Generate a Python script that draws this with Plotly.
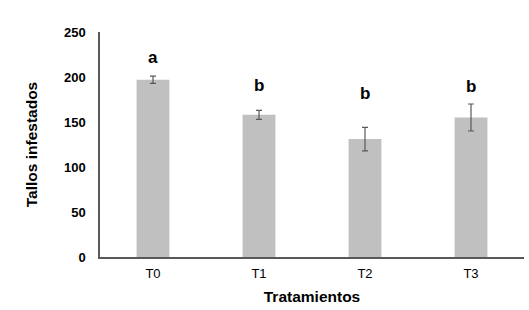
import plotly.graph_objects as go

categories = ["T0", "T1", "T2", "T3"]
values = [197, 158, 131, 155]
errors = [4, 5, 13, 15]
letters = ["a", "b", "b", "b"]
letter_y = [222, 191, 182, 190]
y_ticks = [0, 50, 100, 150, 200, 250]

fig = go.Figure()
fig.add_trace(go.Bar(
    x=categories, y=values,
    marker=dict(color="#c0c0c0", line=dict(width=0)),
    width=0.31,
    error_y=dict(type="data", array=errors, visible=True, color="#595959", thickness=1.2, width=3),
))
for c, l, yy in zip(categories, letters, letter_y):
    fig.add_annotation(x=c, y=yy, text=l, showarrow=False,
                       font=dict(family="Liberation Sans, Arial", size=17, color="#000000", weight="bold"))

fig.update_layout(
    width=529, height=310,
    margin=dict(l=100, r=5, t=32, b=53),
    plot_bgcolor="white", paper_bgcolor="white",
    showlegend=False,
    font=dict(family="Liberation Sans, Arial", color="#000000"),
)
fig.update_xaxes(
    range=[-0.5, 3.5], showline=True, linecolor="#595959", linewidth=1.5,
    showgrid=False, ticks="outside", ticklen=4, tickcolor="white",
    tickfont=dict(size=13, color="#000000"),
    title=dict(text="<b>Tratamientos</b>", font=dict(size=15.5), standoff=11),
)
fig.update_yaxes(
    range=[0, 250], tickvals=y_ticks, showline=True, linecolor="#595959", linewidth=1.5,
    showgrid=False, ticks="outside", ticklen=10, tickcolor="white", zeroline=False,
    tickfont=dict(size=13, color="#000000", weight="bold"),
    title=dict(text="<b>Tallos infestados</b>", font=dict(size=15.5), standoff=23),
)

fig.write_html("out.html", post_script="document.body.style.margin='0';",
               config={"displayModeBar": False})
